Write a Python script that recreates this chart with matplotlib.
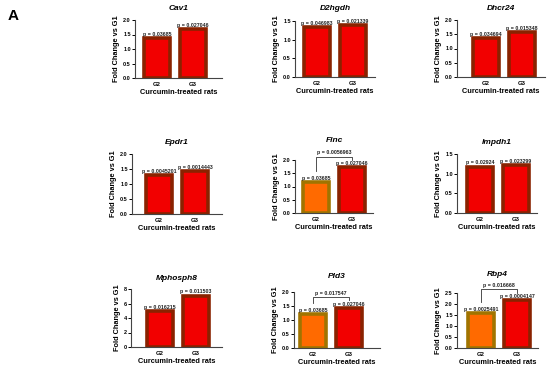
#!/usr/bin/env python3
import matplotlib
matplotlib.use("Agg")
import matplotlib.pyplot as plt

plt.rcParams["font.family"] = ["Liberation Sans", "DejaVu Sans"]
plt.rcParams["font.weight"] = "bold"

genes = ["Cav1", "D2hgdh", "Dhcr24", "Epdr1", "Flnc", "Impdh1", "Mphosph8", "Pld3", "Rbp4"]
groups = ["G2", "G3"]
g2_vals = [1.37, 1.33, 1.38, 1.31, 1.18, 1.18, 4.9, 1.22, 1.60]
g3_vals = [1.68, 1.40, 1.59, 1.42, 1.73, 1.22, 7.1, 1.43, 2.17]
g2_p = ["0.03685", "0.046983", "0.034694", "0.0045201", "0.03685", "0.02924", "0.016215", "0.03685", "0.0025491"]
g3_p = ["0.027046", "0.021339", "0.015348", "0.0014443", "0.027046", "0.023299", "0.011503", "0.027046", "0.0004147"]
g2_vs_g3_p = [None, None, None, None, "0.0056963", None, None, "0.017547", "0.016668"]
y_max = [2.0, 1.5, 2.0, 2.0, 2.0, 1.5, 8, 2.0, 2.5]
y_step = [0.5, 0.5, 0.5, 0.5, 0.5, 0.5, 2, 0.5, 0.5]

# layout in pixels: y-axis x, x-axis end, G2 centre x, axes top, axes bottom, title centre y
layout = [
    (135, 222, 157, 20, 78, 8), (295, 375, 317, 21, 77, 8), (457, 545, 486, 20, 77, 8),
    (132, 222, 159, 154, 214, 143), (295, 373, 316, 160, 213, 141), (457, 537, 480, 154, 213, 143),
    (131, 222, 160, 289, 347, 278), (294, 380, 313, 292, 348, 276), (457, 538, 481, 293, 348, 274),
]

W, H = 550, 367
fig = plt.figure(figsize=(5.5, 3.67), dpi=100)
fig.text(13 / W, 1 - 16 / H, "A", fontsize=11, fontweight="bold", ha="center", va="center")

unit = 36  # px per category
red, red_edge = "#f20000", "#8a2200"
orange, orange_edge = "#ff6a00", "#a07400"

for i, gene in enumerate(genes):
    lx, rx, cx, top, bot, ty = layout[i]
    ax = fig.add_axes([lx / W, 1 - bot / H, (rx - lx) / W, (bot - top) / H])
    bracket = g2_vs_g3_p[i] is not None
    c2 = orange if bracket else red
    e2 = orange_edge if bracket else red_edge
    vals = [g2_vals[i], g3_vals[i]]
    ax.bar([0, 1], vals, width=0.7, color=[c2, red], edgecolor=[e2, red_edge], linewidth=2.6, zorder=2)
    ax.set_xlim((lx - cx) / unit, (rx - cx) / unit)
    ax.set_ylim(0, y_max[i])
    ticks = [k * y_step[i] for k in range(int(round(y_max[i] / y_step[i])) + 1)]
    ax.set_yticks(ticks)
    if y_step[i] < 1:
        ax.set_yticklabels([f"{t:.1f}" for t in ticks])
    ax.set_xticks([0, 1])
    ax.set_xticklabels(groups)
    ax.spines["top"].set_visible(False)
    ax.spines["right"].set_visible(False)
    for s in ["left", "bottom"]:
        ax.spines[s].set_linewidth(0.8)
        ax.spines[s].set_color("#444444")
    ax.tick_params(axis="y", labelsize=4, length=2, width=0.7, pad=1)
    ax.tick_params(axis="x", labelsize=4.3, length=0, pad=3)
    ax.set_xlabel("Curcumin-treated rats", fontsize=5.3, fontweight="bold", labelpad=1)
    ax.set_ylabel("Fold Change vs G1", fontsize=5.3, fontweight="bold", labelpad=2)
    fig.text((lx + rx) / 2 / W, 1 - ty / H, gene, fontsize=6, fontweight="bold",
             fontstyle="italic", ha="center", va="center")

    off = y_max[i] * 0.02
    ax.text(0, vals[0] + off, "p = " + g2_p[i], fontsize=3.8, ha="center", va="bottom",
            color="#222222", clip_on=False)
    ax.text(1, vals[1] + off, "p = " + g3_p[i], fontsize=3.8, ha="center", va="bottom",
            color="#222222", clip_on=False)
    if bracket:
        ym = y_max[i]
        yb = max(vals) + ym * 0.2
        ax.plot([0, 0, 1, 1], [vals[0] + ym * 0.2, yb, yb, vals[1] + ym * 0.14],
                color="#333333", lw=0.6, clip_on=False)
        ax.text(0.5, yb + off, "p = " + g2_vs_g3_p[i], fontsize=3.8, ha="center", va="bottom",
                color="#222222", clip_on=False)

fig.savefig("out.png", dpi=100)
